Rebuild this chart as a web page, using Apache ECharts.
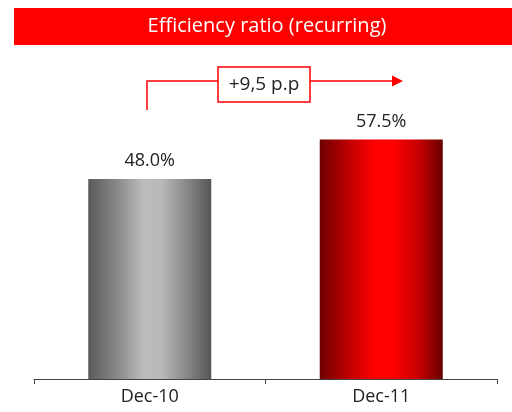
<!DOCTYPE html>
<html>
<head>
<meta charset="utf-8">
<script src="https://cdn.jsdelivr.net/npm/echarts@6/dist/echarts.min.js"></script>
<style>
  html, body { margin: 0; padding: 0; background: #fff; }
  #chart { width: 512px; height: 412px; }
</style>
</head>
<body>
<div id="chart"></div>
<script>
// Efficiency ratio (recurring), year-end values in percent
const categories = ['Dec-10', 'Dec-11'];
const ratioValues = [48.0, 57.5];
const changeLabel = '+9,5 p.p';
const titleText = 'Efficiency ratio (recurring)';

const FONT = '"Open Sans", "Noto Sans", sans-serif';

// horizontal "cylinder" shading for each bar
function barGradient(stops) {
  return new echarts.graphic.LinearGradient(0, 0, 1, 0,
    stops.map(([offset, color]) => ({ offset, color })));
}
const barStyles = [
  barGradient([[0, '#5a5a5a'], [0.25, '#8c8c8c'], [0.45, '#bdbdbd'], [0.6, '#b8b8b8'], [0.85, '#7c7c7c'], [1, '#555555']]),
  barGradient([[0, '#6e0000'], [0.25, '#c40000'], [0.45, '#ff0000'], [0.6, '#ff0000'], [0.82, '#c00000'], [1, '#680000']])
];

const chart = echarts.init(document.getElementById('chart'), null, { renderer: 'canvas' });

chart.setOption({
  animation: false,
  grid: { left: 34, right: 15, top: 45.67, bottom: 33 },
  xAxis: {
    type: 'category',
    data: categories,
    axisLine: { lineStyle: { color: '#444', width: 1 } },
    axisTick: { show: true, length: 5, lineStyle: { color: '#444' } },
    axisLabel: { color: '#222', fontSize: 18, fontFamily: FONT, margin: 9 }
  },
  yAxis: {
    type: 'value',
    min: 0,
    max: 80,
    show: false,
    splitLine: { show: false }
  },
  series: [{
    type: 'bar',
    barWidth: 123,
    data: ratioValues.map((v, i) => ({ value: v, itemStyle: { color: barStyles[i] } })),
    label: {
      show: true,
      position: 'top',
      distance: 9,
      color: '#222',
      fontSize: 18,
      fontFamily: FONT,
      formatter: p => p.value.toFixed(1) + '%'
    }
  }],
  graphic: [
    // title banner
    {
      type: 'rect',
      shape: { x: 14, y: 8, width: 510, height: 37 },
      style: { fill: '#ff0000' }
    },
    {
      type: 'text',
      x: 267, y: 26.5,
      style: {
        text: titleText, fill: '#fff', fontSize: 20, fontFamily: FONT,
        align: 'center', verticalAlign: 'middle'
      }
    },
    // change annotation arrow
    {
      type: 'polyline',
      shape: { points: [[147, 110], [147, 81], [394, 81]] },
      style: { stroke: '#ff0000', lineWidth: 1.5, fill: null }
    },
    {
      type: 'polygon',
      shape: { points: [[392, 75.5], [403, 81], [392, 86.5]] },
      style: { fill: '#ff0000' }
    },
    {
      type: 'rect',
      shape: { x: 218, y: 67, width: 92, height: 35 },
      style: { fill: '#fff', stroke: '#ff0000', lineWidth: 1.5 }
    },
    {
      type: 'text',
      x: 264, y: 85,
      style: {
        text: changeLabel, fill: '#222', fontSize: 19, fontFamily: FONT,
        align: 'center', verticalAlign: 'middle'
      }
    }
  ]
});
</script>
</body>
</html>
